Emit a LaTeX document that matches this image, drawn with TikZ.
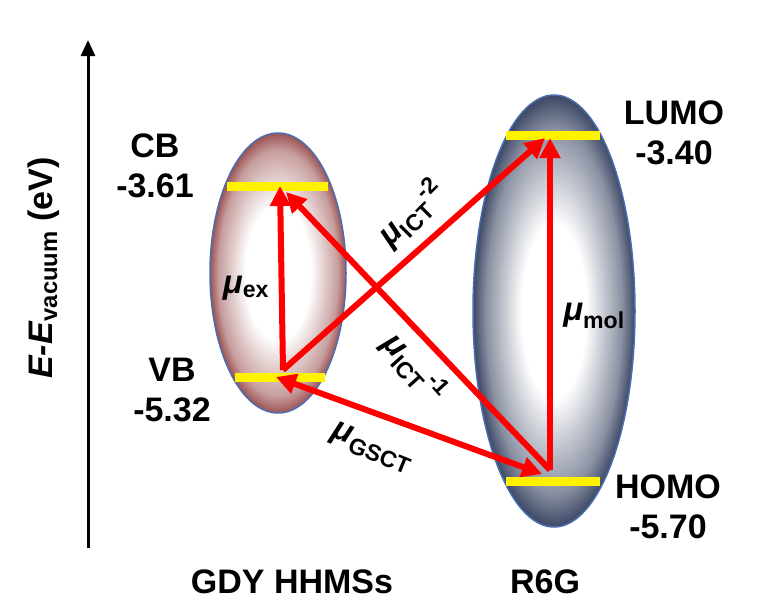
\documentclass[tikz,border=0pt]{standalone}
\usepackage{fontspec}
\setmainfont{Liberation Sans}
\usetikzlibrary{arrows.meta}
\definecolor{brn}{HTML}{8E3A3A}
\definecolor{nav}{HTML}{2A3656}
\definecolor{edge}{HTML}{4A6FB0}
\pgfdeclareradialshading{gdy}{\pgfpoint{0bp}{0bp}}{color(0bp)=(white);color(12bp)=(white);color(22bp)=(brn!50);color(26bp)=(brn);color(50bp)=(brn)}
\pgfdeclareradialshading{rsg}{\pgfpoint{0bp}{0bp}}{color(0bp)=(white);color(10bp)=(white);color(21bp)=(nav!55);color(26bp)=(nav);color(50bp)=(nav)}
\begin{document}
\begin{tikzpicture}[x=1pt,y=-1pt,
 lab/.style={font=\fontsize{34}{38}\selectfont\bfseries,align=center},
 mu/.style={font=\fontsize{33}{36}\selectfont\bfseries},
 bar/.style={yellow,line width=9pt},
 arr/.style={red,line width=6pt,-{Triangle[length=20pt,width=20pt]}},
 darr/.style={red,line width=6pt,{Triangle[length=20pt,width=20pt]}-{Triangle[length=20pt,width=20pt]}}]
\useasboundingbox (0,0) rectangle (765,614);
\shade[shading=gdy,draw=edge,line width=1.5pt] (278,273) ellipse (68 and 140);
\shade[shading=rsg,draw=edge,line width=1.5pt] (554,311) ellipse (81 and 216);
\draw[bar] (227,186) -- (328,186);
\draw[bar] (235,377) -- (325,377);
\draw[bar] (506,135) -- (600,135);
\draw[bar] (506,481) -- (600,481);
\coordinate (vb) at (283,370);
\coordinate (cb) at (280,186);
\coordinate (cb2) at (286,192);
\coordinate (lumo) at (545,138);
\coordinate (lumo2) at (550,138);
\coordinate (homo) at (550,470);
\coordinate (homo2) at (542,474);
\coordinate (vb2) at (276,377);
\draw[arr] (vb) -- (cb);
\draw[arr] (vb) -- (lumo);
\draw[arr] (homo) -- (cb2);
\draw[arr] (homo) -- (lumo2);
\draw[darr] (vb2) -- (homo2);
\draw[-{Triangle[length=16pt,width=14pt]},line width=3pt] (88,548) -- (88,40);
\node[lab,rotate=90] (ax) at (44,268) {\textit{E-E}\textsubscript{vacuum} (eV)};
\node[lab] (cbl) at (155,166) {CB\\[2pt]-3.61};
\node[lab] (vbl) at (172,390) {VB\\[2pt]-5.32};
\node[lab] (lul) at (674,133) {LUMO\\[2pt]-3.40};
\node[lab] (hol) at (668,507) {HOMO\\[2pt]-5.70};
\node[lab] (g) at (292,582) {GDY HHMSs};
\node[lab] (r) at (545,582) {R6G};
\node[mu] (mex) at (246,288) {\textit{μ}\textsubscript{ex}};
\node[mu] (mmol) at (594,316) {\textit{μ}\textsubscript{mol}};
\node[mu,rotate=45] (m2) at (412,214) {\textit{μ}\textsubscript{ICT}\textsuperscript{-2}};
\node[mu,rotate=-48] (m1) at (414,368) {\textit{μ}\textsubscript{ICT}\textsuperscript{-1}};
\node[mu,rotate=-22] (mg) at (372,448) {\textit{μ}\textsubscript{GSCT}};
\end{tikzpicture}
\end{document}
